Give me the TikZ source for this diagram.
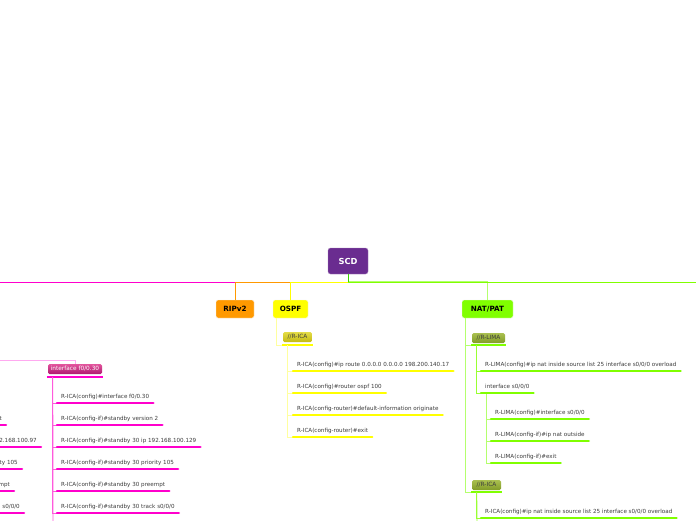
\documentclass[tikz,border=0pt]{standalone}
\usepackage{fontspec}
\setmainfont{DejaVu Sans}
\definecolor{scdpurple}{RGB}{106,44,144}
\definecolor{ripor}{RGB}{255,153,0}
\definecolor{ospfyel}{RGB}{255,255,0}
\definecolor{ospfpale}{RGB}{255,255,160}
\definecolor{ospftop}{RGB}{228,220,70}
\definecolor{ospfbot}{RGB}{196,186,20}
\definecolor{natgreen}{RGB}{128,255,0}
\definecolor{natpale}{RGB}{180,255,110}
\definecolor{nattop}{RGB}{170,192,80}
\definecolor{natbot}{RGB}{130,156,40}
\definecolor{magbar}{RGB}{255,0,204}
\definecolor{magline}{RGB}{255,90,220}
\definecolor{magpale}{RGB}{255,170,240}
\definecolor{magtop}{RGB}{226,84,156}
\definecolor{magbot}{RGB}{176,24,112}
\definecolor{stemgreen}{RGB}{60,210,0}
\definecolor{cmdtext}{RGB}{60,60,60}
\tikzset{
  rootbox/.style={
    rectangle, fill=scdpurple, draw=scdpurple!60!white, rounded corners=2.5pt,
    minimum width=40pt, minimum height=26pt, inner sep=1pt,
    font=\fontsize{8.3}{9}\selectfont\bfseries, text=white,
  },
  mainbox/.style={
    rectangle, draw=white!70!black!10, rounded corners=2pt,
    minimum height=18pt, inner sep=1pt,
    font=\fontsize{7.2}{8}\selectfont\bfseries, text=black,
  },
  subbox/.style={
    rectangle, rounded corners=1.5pt, minimum height=10pt, inner sep=1pt,
    font=\fontsize{5.8}{6}\selectfont, text=cmdtext,
  },
  cmd/.style={
    anchor=south west, inner xsep=4pt, inner ysep=4.5pt,
    text height=4pt, text depth=0pt,
    font=\fontsize{5.6}{6}\selectfont, text=cmdtext,
  },
  cmdcut/.style={
    cmd, anchor=south east, text width=60pt, align=right,
  },
  branch/.style={line width=1pt},
  bar/.style={line width=2.5pt, line cap=round},
  twig/.style={line width=0.8pt},
}

\begin{document}
\begin{tikzpicture}[x=1pt, y=-1pt]
  \clip (0,0) rectangle (696,520);
  \fill[white] (0,0) rectangle (696,520);

  % root and first level
  \node[rootbox] (scd) at (348,261) {SCD};
  \node[mainbox, fill=ripor, minimum width=38pt] (rip) at (235,309) {RIPv2};
  \node[mainbox, fill=ospfyel, minimum width=35pt] (ospf) at (290.5,309) {OSPF};
  \node[mainbox, fill=natgreen, minimum width=51pt] (nat) at (487.5,309) {NAT/PAT};

  \coordinate (fork) at (348,282);
  \coordinate (hsrp) at (-20,282);
  \coordinate (rightend) at (716,282);

  \draw[branch, draw=magbar] (fork) -- (hsrp);
  \draw[branch, draw=ripor] (fork) -| (rip.north);
  \draw[branch, draw=ospfyel] (fork) -| (ospf.north);
  \draw[branch, draw=natgreen] (fork) -- (rightend);
  \draw[branch, draw=natpale, line width=1.5pt] (fork) -| (nat.north);
  \draw[branch, draw=natgreen] (fork) -- (nat.north |- fork);
  \draw[branch, draw=stemgreen] (scd.south) -- (fork);

  % HSRP branch, interface f0/0.30
  \coordinate (hsrpin) at (-20,360);
  \node[subbox, top color=magtop, bottom color=magbot, text=white,
        minimum width=54pt] (if30) at (75,369) {interface f0/0.30};
  \coordinate (if30b) at ([yshift=-3pt]if30.south west);
  \draw[twig, draw=magpale] (hsrpin) -| (if30.north);
  \draw[bar, line cap=butt, draw=magbar] ([xshift=-1pt]if30b) -- ([xshift=1pt, yshift=-3pt]if30.south east);

  \node[cmd] (m1) at (57,403) {R-ICA(config)\#interface f0/0.30};
  \node[cmd] (m2) at (57,425) {R-ICA(config-if)\#standby version 2};
  \node[cmd] (m3) at (57,447) {R-ICA(config-if)\#standby 30 ip 192.168.100.129};
  \node[cmd] (m4) at (57,469) {R-ICA(config-if)\#standby 30 priority 105};
  \node[cmd] (m5) at (57,491) {R-ICA(config-if)\#standby 30 preempt};
  \node[cmd] (m6) at (57,513) {R-ICA(config-if)\#standby 30 track s0/0/0};
  \coordinate (magdown) at (53,530);

  \draw[twig, draw=magline] ([xshift=5pt]if30b) -- (magdown);
  \draw[twig, draw=magline] ([xshift=5pt]if30b) |- (m1.south west);
  \draw[twig, draw=magline] ([xshift=5pt]if30b) |- (m2.south west);
  \draw[twig, draw=magline] ([xshift=5pt]if30b) |- (m3.south west);
  \draw[twig, draw=magline] ([xshift=5pt]if30b) |- (m4.south west);
  \draw[twig, draw=magline] ([xshift=5pt]if30b) |- (m5.south west);
  \draw[twig, draw=magline] ([xshift=5pt]if30b) |- (m6.south west);
  \draw[bar, draw=magbar] (m1.south west) -- (m1.south east);
  \draw[bar, draw=magbar] (m2.south west) -- (m2.south east);
  \draw[bar, draw=magbar] (m3.south west) -- (m3.south east);
  \draw[bar, draw=magbar] (m4.south west) -- (m4.south east);
  \draw[bar, draw=magbar] (m5.south west) -- (m5.south east);
  \draw[bar, draw=magbar] (m6.south west) -- (m6.south east);

  % cut-off neighbour on the left edge
  \node[cmdcut] (c2) at (6,425) {t};
  \node[cmdcut] (c3) at (41,447) {2.168.100.97};
  \node[cmdcut] (c4) at (22,469) {ty 105};
  \node[cmdcut] (c5) at (14,491) {mpt};
  \node[cmdcut] (c6) at (24,513) {s0/0/0};
  \draw[bar, draw=magbar] (c2.south west) -- (c2.south east);
  \draw[bar, draw=magbar] (c3.south west) -- (c3.south east);
  \draw[bar, draw=magbar] (c4.south west) -- (c4.south east);
  \draw[bar, draw=magbar] (c5.south west) -- (c5.south east);
  \draw[bar, draw=magbar] (c6.south west) -- (c6.south east);

  % OSPF
  \node[subbox, top color=ospftop, bottom color=ospfbot,
        minimum width=29pt] (oica) at (297.5,337) {//R-ICA};
  \coordinate (oicab) at ([yshift=-3pt]oica.south west);
  \draw[twig, draw=ospfpale] ([xshift=4pt]ospf.south west) |- (oicab);
  \draw[bar, line cap=butt, draw=ospfyel] ([xshift=-1pt]oicab) -- ([xshift=1pt, yshift=-3pt]oica.south east);

  \node[cmd] (o1) at (293,371) {R-ICA(config)\#ip route 0.0.0.0 0.0.0.0 198.200.140.17};
  \node[cmd] (o2) at (293,393) {R-ICA(config)\#router ospf 100};
  \node[cmd] (o3) at (293,415) {R-ICA(config-router)\#default-information originate};
  \node[cmd] (o4) at (293,437) {R-ICA(config-router)\#exit};

  \draw[twig, draw=ospfpale] ([xshift=5pt]oicab) |- (o1.south west);
  \draw[twig, draw=ospfpale] ([xshift=5pt]oicab) |- (o2.south west);
  \draw[twig, draw=ospfpale] ([xshift=5pt]oicab) |- (o3.south west);
  \draw[twig, draw=ospfpale] ([xshift=5pt]oicab) |- (o4.south west);
  \draw[bar, draw=ospfyel] (o1.south west) -- (o1.south east);
  \draw[bar, draw=ospfyel] (o2.south west) -- (o2.south east);
  \draw[bar, draw=ospfyel] (o3.south west) -- (o3.south east);
  \draw[bar, draw=ospfyel] (o4.south west) -- (o4.south east);

  % NAT/PAT, R-LIMA
  \node[subbox, top color=nattop, bottom color=natbot,
        minimum width=33pt] (lima) at (488.5,338) {//R-LIMA};
  \coordinate (limab) at ([yshift=-2pt]lima.south west);
  \node[subbox, top color=nattop, bottom color=natbot,
        minimum width=29pt] (nica) at (486.5,485) {//R-ICA};
  \coordinate (nicab) at ([yshift=-2pt]nica.south west);

  \draw[twig, draw=natpale] ([xshift=4pt]nat.south west) |- (limab);
  \draw[twig, draw=natpale] ([xshift=4pt]nat.south west) |- (nicab);
  \draw[bar, line cap=butt, draw=natgreen] ([xshift=-1pt]limab) -- ([xshift=1pt, yshift=-2pt]lima.south east);
  \draw[bar, line cap=butt, draw=natgreen] ([xshift=-1pt]nicab) -- ([xshift=1pt, yshift=-2pt]nica.south east);

  \node[cmd] (l1) at (481,371) {R-LIMA(config)\#ip nat inside source list 25 interface s0/0/0 overload};
  \node[cmd] (ls) at (481,393) {interface s0/0/0};
  \node[cmd] (s1) at (491,419) {R-LIMA(config)\#interface s0/0/0};
  \node[cmd] (s2) at (491,441) {R-LIMA(config-if)\#ip nat outside};
  \node[cmd] (s3) at (491,463) {R-LIMA(config-if)\#exit};

  \draw[twig, draw=natgreen!80!white] ([xshift=5pt]limab) |- (l1.south west);
  \draw[twig, draw=natgreen!80!white] ([xshift=5pt]limab) |- (ls.south west);
  \draw[twig, draw=natpale] ([xshift=5pt]ls.south west) |- (s1.south west);
  \draw[twig, draw=natpale] ([xshift=5pt]ls.south west) |- (s2.south west);
  \draw[twig, draw=natpale] ([xshift=5pt]ls.south west) |- (s3.south west);
  \draw[bar, draw=natgreen] (l1.south west) -- (l1.south east);
  \draw[bar, draw=natgreen] (ls.south west) -- (ls.south east);
  \draw[bar, draw=natgreen] (s1.south west) -- (s1.south east);
  \draw[bar, draw=natgreen] (s2.south west) -- (s2.south east);
  \draw[bar, draw=natgreen] (s3.south west) -- (s3.south east);

  % NAT/PAT, R-ICA
  \node[cmd] (n1) at (481,518) {R-ICA(config)\#ip nat inside source list 25 interface s0/0/0 overload};
  \coordinate (natdown) at (477,530);
  \draw[twig, draw=natgreen!80!white] ([xshift=5pt]nicab) -- (natdown);
  \draw[twig, draw=natgreen!80!white] ([xshift=5pt]nicab) |- (n1.south west);
  \draw[bar, draw=natgreen] (n1.south west) -- (n1.south east);

\end{tikzpicture}
\end{document}
